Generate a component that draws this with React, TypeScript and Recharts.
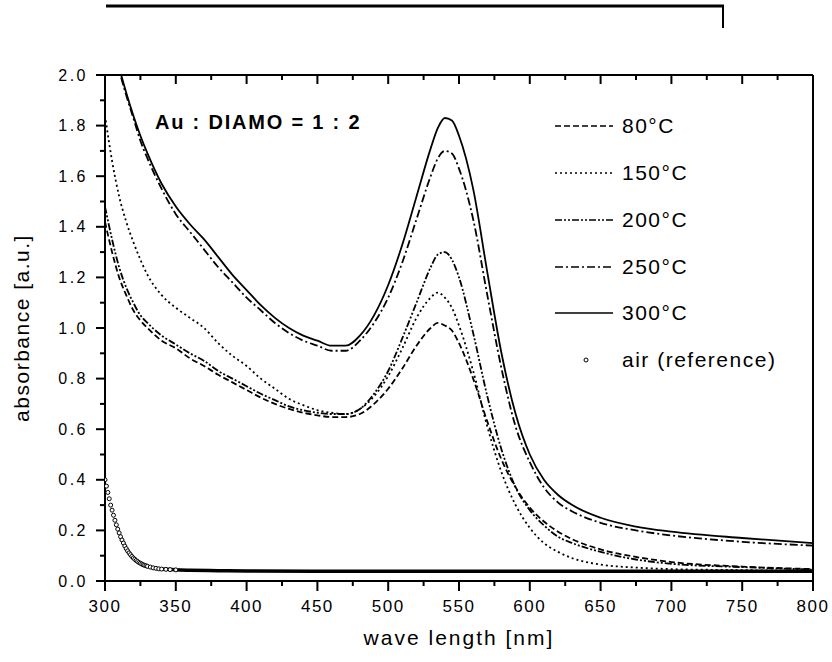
import React from 'react';
import { ComposedChart, Line, XAxis, YAxis, Customized } from 'recharts';

const wavelengths = [300, 305, 310, 315, 320, 325, 330, 340, 350, 360, 370, 380, 390, 400, 410, 420, 430, 440, 450, 460, 470, 480, 490, 500, 510, 520, 530, 535, 540, 545, 550, 560, 570, 580, 590, 600, 610, 620, 630, 650, 675, 700, 750, 800];

const abs80 = [1.42, 1.3, 1.2, 1.13, 1.07, 1.03, 1.0, 0.95, 0.92, 0.88, 0.85, 0.815, 0.785, 0.755, 0.725, 0.7, 0.68, 0.665, 0.655, 0.648, 0.648, 0.66, 0.7, 0.76, 0.84, 0.93, 1.0, 1.02, 1.01, 0.99, 0.94, 0.8, 0.63, 0.48, 0.37, 0.29, 0.235, 0.195, 0.165, 0.125, 0.095, 0.075, 0.057, 0.047];
const abs150 = [1.84, 1.66, 1.52, 1.42, 1.34, 1.27, 1.21, 1.13, 1.08, 1.04, 1.0, 0.94, 0.89, 0.85, 0.8, 0.76, 0.72, 0.695, 0.675, 0.665, 0.66, 0.68, 0.73, 0.81, 0.92, 1.04, 1.12, 1.14, 1.12, 1.08, 1.01, 0.83, 0.61, 0.43, 0.3, 0.21, 0.15, 0.115, 0.09, 0.065, 0.053, 0.047, 0.043, 0.04];
const abs200 = [1.48, 1.35, 1.24, 1.16, 1.1, 1.05, 1.02, 0.97, 0.935, 0.9, 0.87, 0.83, 0.8, 0.77, 0.74, 0.715, 0.69, 0.675, 0.665, 0.66, 0.66, 0.68, 0.74, 0.83, 0.96, 1.1, 1.24, 1.29, 1.3, 1.27, 1.2, 0.98, 0.73, 0.52, 0.37, 0.28, 0.22, 0.175, 0.15, 0.115, 0.085, 0.068, 0.055, 0.045];
const abs250 = [2.3, 2.14, 2.02, 1.92, 1.83, 1.74, 1.67, 1.55, 1.45, 1.38, 1.31, 1.24, 1.18, 1.12, 1.07, 1.02, 0.98, 0.95, 0.93, 0.91, 0.91, 0.95, 1.02, 1.12, 1.26, 1.43, 1.6, 1.67, 1.7, 1.69, 1.63, 1.43, 1.13, 0.84, 0.61, 0.47, 0.37, 0.31, 0.275, 0.23, 0.2, 0.18, 0.155, 0.14];
const abs300 = [2.3, 2.15, 2.03, 1.93, 1.84, 1.76, 1.69, 1.57, 1.48, 1.41, 1.35, 1.28, 1.21, 1.15, 1.09, 1.04, 1.0, 0.97, 0.95, 0.93, 0.93, 0.97, 1.05, 1.17, 1.33, 1.52, 1.71, 1.79, 1.83, 1.82, 1.76, 1.55, 1.22, 0.9, 0.66, 0.5, 0.4, 0.34, 0.3, 0.25, 0.215, 0.195, 0.17, 0.15];

// air reference: dense points on the steep part, then the flat tail
const airWl = [300, 301, 302, 303, 304, 305, 306, 307, 308, 309, 310, 311, 312, 313, 314, 315, 316, 317, 318, 319, 320, 321, 322, 323, 324, 325, 326, 327, 328, 329, 330, 332, 334, 336, 338, 340, 343, 346, 350];
const airAbs = [0.4, 0.375, 0.35, 0.325, 0.3, 0.28, 0.26, 0.24, 0.222, 0.205, 0.19, 0.175, 0.162, 0.15, 0.138, 0.128, 0.119, 0.111, 0.104, 0.097, 0.091, 0.086, 0.081, 0.077, 0.073, 0.07, 0.067, 0.064, 0.062, 0.06, 0.058, 0.055, 0.052, 0.05, 0.048, 0.047, 0.046, 0.045, 0.044];
const airTailWl = [340, 350, 360, 380, 400, 450, 500, 550, 600, 650, 700, 750, 800];
const airTailAbs = [0.047, 0.044, 0.042, 0.041, 0.04, 0.039, 0.039, 0.039, 0.039, 0.039, 0.039, 0.039, 0.039];

const xTicks = [300, 325, 350, 375, 400, 425, 450, 475, 500, 525, 550, 575, 600, 625, 650, 675, 700, 725, 750, 775, 800];
const yTicks = [0, 0.1, 0.2, 0.3, 0.4, 0.5, 0.6, 0.7, 0.8, 0.9, 1.0, 1.1, 1.2, 1.3, 1.4, 1.5, 1.6, 1.7, 1.8, 1.9, 2.0];

const seriesLabels = ['80°C', '150°C', '200°C', '250°C', '300°C'];
const dashes = ['6 3', '2 3', '7 2 2 2 2 2', '8 3 2 3', ''];
const seriesKeys = ['t80', 't150', 't200', 't250', 't300'];

const data = wavelengths.map((wl, i) => ({
  wl,
  t80: abs80[i],
  t150: abs150[i],
  t200: abs200[i],
  t250: abs250[i],
  t300: abs300[i],
}));
const airData = airWl.map((wl, i) => ({ wl, air: airAbs[i] }));
const airTail = airTailWl.map((wl, i) => ({ wl, air: airTailAbs[i] }));

const font = '"Liberation Sans", Arial, sans-serif';

const BottomTick = (props: any) => {
  const { x, y, payload } = props;
  const major = payload.value % 50 === 0;
  return (
    <g>
      <line x1={x} x2={x} y1={y} y2={y + (major ? 10 : 5)} stroke="#000" strokeWidth={2} />
      {major && (
        <text x={x} y={y + 31} textAnchor="middle" fontSize={17} letterSpacing={1.5} fontFamily={font} fill="#000">
          {payload.value}
        </text>
      )}
    </g>
  );
};

const TopTick = (props: any) => {
  const { x, y, payload } = props;
  const major = payload.value % 50 === 0;
  return <line x1={x} x2={x} y1={y} y2={y + (major ? 9 : 5)} stroke="#000" strokeWidth={2} />;
};

const LeftTick = (props: any) => {
  const { x, y, payload } = props;
  const major = Math.round(payload.value * 10) % 2 === 0;
  return (
    <g>
      <line x1={x - (major ? 9 : 5)} x2={x} y1={y} y2={y} stroke="#000" strokeWidth={2} />
      {major && (
        <text x={x - 17} y={y + 5.5} textAnchor="end" fontSize={16} letterSpacing={2.5} fontFamily={font} fill="#000">
          {payload.value.toFixed(1)}
        </text>
      )}
    </g>
  );
};

const RightTick = (props: any) => {
  const { x, y, payload } = props;
  const major = Math.round(payload.value * 10) % 2 === 0;
  return <line x1={x - (major ? 9 : 5)} x2={x} y1={y} y2={y} stroke="#000" strokeWidth={2} />;
};

const Decor = () => {
  const legendY = [126, 173, 220, 267, 313];
  return (
    <g fontFamily={font} fill="#000">
      <line x1={106} y1={6} x2={724} y2={6} stroke="#000" strokeWidth={3} />
      <line x1={723} y1={6} x2={723} y2={28} stroke="#000" strokeWidth={2} />
      <text x={155} y={129} fontSize={20} fontWeight="bold" letterSpacing={1.8}>
        Au : DIAMO = 1 : 2
      </text>
      {seriesLabels.map((lab, i) => (
        <g key={lab}>
          <line x1={555} x2={613} y1={legendY[i]} y2={legendY[i]} stroke="#000" strokeWidth={1.6} strokeDasharray={dashes[i]} />
          <text x={622} y={legendY[i] + 7} fontSize={21} letterSpacing={1.5}>
            {lab}
          </text>
        </g>
      ))}
      <circle cx={586} cy={360} r={2} fill="#fff" stroke="#000" strokeWidth={1} />
      <text x={622} y={367} fontSize={21} letterSpacing={1.5}>
        air (reference)
      </text>
      <text x={459} y={645} textAnchor="middle" fontSize={21} letterSpacing={2}>
        wave length [nm]
      </text>
      <text x={29} y={328} textAnchor="middle" fontSize={21} letterSpacing={1.5} transform="rotate(-90 29 328)">
        absorbance [a.u.]
      </text>
    </g>
  );
};

const App: React.FC = () => {
  return (
    <div style={{ position: 'absolute', left: 0, top: 0, width: 832, height: 662, background: '#fff' }}>
      <ComposedChart width={832} height={662} data={data} margin={{ top: 74, right: 18, bottom: 0, left: 0 }}>
        <XAxis
          dataKey="wl"
          type="number"
          domain={[300, 800]}
          ticks={xTicks}
          interval={0}
          height={81}
          tickSize={0}
          tickMargin={0}
          tickLine={false}
          tick={<BottomTick />}
          axisLine={{ stroke: '#000', strokeWidth: 2 }}
          allowDataOverflow
        />
        <XAxis
          xAxisId="top"
          orientation="top"
          dataKey="wl"
          type="number"
          domain={[300, 800]}
          ticks={xTicks}
          interval={0}
          height={1}
          tickSize={0}
          tickMargin={0}
          tickLine={false}
          tick={<TopTick />}
          axisLine={{ stroke: '#000', strokeWidth: 2 }}
        />
        <YAxis
          type="number"
          domain={[0, 2]}
          ticks={yTicks}
          interval={0}
          width={105}
          tickSize={0}
          tickMargin={0}
          tickLine={false}
          tick={<LeftTick />}
          axisLine={{ stroke: '#000', strokeWidth: 2 }}
          allowDataOverflow
        />
        <YAxis
          yAxisId="right"
          orientation="right"
          type="number"
          domain={[0, 2]}
          ticks={yTicks}
          interval={0}
          width={1}
          tickSize={0}
          tickMargin={0}
          tickLine={false}
          tick={<RightTick />}
          axisLine={{ stroke: '#000', strokeWidth: 2 }}
        />
        {seriesKeys.map((k, i) => (
          <Line
            key={k}
            dataKey={k}
            type="monotone"
            stroke="#000"
            strokeWidth={1.8}
            strokeDasharray={dashes[i]}
            dot={false}
            activeDot={false}
            isAnimationActive={false}
          />
        ))}
        <Line
          data={airTail}
          dataKey="air"
          type="monotone"
          stroke="#000"
          strokeWidth={3.5}
          dot={false}
          activeDot={false}
          isAnimationActive={false}
        />
        <Line
          data={airData}
          dataKey="air"
          type="monotone"
          stroke="none"
          dot={{ r: 2, fill: '#fff', stroke: '#000', strokeWidth: 1 }}
          activeDot={false}
          isAnimationActive={false}
        />
        <Customized component={<Decor />} />
      </ComposedChart>
    </div>
  );
};

export default App;
